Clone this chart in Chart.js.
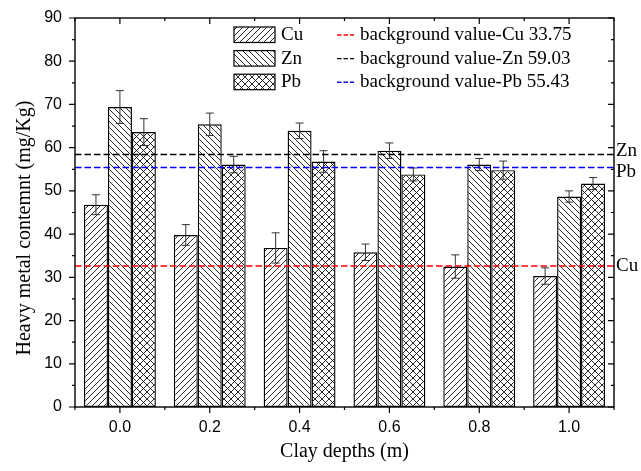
<!DOCTYPE html>
<html>
<head>
<meta charset="utf-8">
<script src="https://cdn.jsdelivr.net/npm/chart.js@4"></script>
<style>
  html, body { margin: 0; padding: 0; background: #fff; }
  #wrap { width: 641px; height: 471px; }
</style>
</head>
<body>
<div id="wrap"><canvas id="metalChart"></canvas></div>
<script>
// valores
const depths = ['0.0', '0.2', '0.4', '0.6', '0.8', '1.0'];
const cuValues = [46.8, 39.8, 36.8, 35.8, 32.5, 30.3];
const cuErrors = [2.3, 2.4, 3.5, 1.9, 2.7, 1.9];
const znValues = [69.4, 65.4, 63.9, 59.3, 56.1, 48.7];
const znErrors = [3.8, 2.6, 1.8, 1.8, 1.4, 1.3];
const pbValues = [63.6, 56.1, 56.8, 53.8, 54.8, 51.7];
const pbErrors = [3.1, 1.9, 2.5, 1.5, 2.1, 1.4];

// lineas de fondo
const bgNames = ['Cu', 'Zn', 'Pb'];
const bgLabels = ['background value-Cu 33.75', 'background value-Zn 59.03', 'background value-Pb 55.43'];
const bgLevels = [32.6, 58.4, 55.4];
const bgColors = ['#ff0000', '#000000', '#0000ff'];

const yMin = 0, yMax = 90, yStep = 10;

// rellenos con rayado
function makePattern(kind) {
    const s = kind === 'cross' ? 7 : 6;
    const c = document.createElement('canvas');
    c.width = s; c.height = s;
    const g = c.getContext('2d');
    g.fillStyle = '#fff';
    g.fillRect(0, 0, s, s);
    g.strokeStyle = '#111';
    g.lineWidth = 0.9;
    g.beginPath();
    if (kind === 'fwd' || kind === 'cross') {
        g.moveTo(0, s); g.lineTo(s, 0);
        g.moveTo(-1, 1); g.lineTo(1, -1);
        g.moveTo(s - 1, s + 1); g.lineTo(s + 1, s - 1);
    }
    if (kind === 'back' || kind === 'cross') {
        g.moveTo(0, 0); g.lineTo(s, s);
        g.moveTo(-1, s - 1); g.lineTo(1, s + 1);
        g.moveTo(s - 1, -1); g.lineTo(s + 1, 1);
    }
    g.stroke();
    return g.createPattern(c, 'repeat');
}

const cuFill = makePattern('fwd');
const znFill = makePattern('back');
const pbFill = makePattern('cross');

// barras de error
const errorBars = {
    id: 'errorBars',
    afterDatasetsDraw(chart) {
        const ctx = chart.ctx, y = chart.scales.y;
        ctx.save();
        ctx.strokeStyle = '#333';
        ctx.lineWidth = 1;
        chart.data.datasets.forEach((ds, di) => {
            const meta = chart.getDatasetMeta(di);
            meta.data.forEach((bar, i) => {
                const v = ds.data[i], e = ds.errors[i];
                const top = y.getPixelForValue(v + e), bot = y.getPixelForValue(v - e);
                ctx.beginPath();
                ctx.moveTo(bar.x, top); ctx.lineTo(bar.x, bot);
                ctx.moveTo(bar.x - 4, top); ctx.lineTo(bar.x + 4, top);
                ctx.moveTo(bar.x - 4, bot); ctx.lineTo(bar.x + 4, bot);
                ctx.stroke();
            });
        });
        ctx.restore();
    }
};

// lineas de referencia, marco, ticks, leyenda y titulos
const decorations = {
    id: 'decorations',
    afterDraw(chart) {
        const { ctx, chartArea: a, scales: { x, y } } = chart;
        ctx.save();

        // lineas de fondo discontinuas
        ctx.lineWidth = 1.5;
        ctx.setLineDash([6.5, 3]);
        bgLevels.forEach((lv, i) => {
            const py = y.getPixelForValue(lv);
            ctx.strokeStyle = bgColors[i];
            ctx.beginPath();
            ctx.moveTo(a.left, py); ctx.lineTo(a.right, py);
            ctx.stroke();
        });
        ctx.setLineDash([]);

        // marco
        ctx.strokeStyle = '#000';
        ctx.lineWidth = 1.4;
        ctx.strokeRect(a.left, a.top, a.right - a.left, a.bottom - a.top);

        // ticks
        ctx.lineWidth = 1.2;
        ctx.beginPath();
        for (let v = yMin; v <= yMax; v += yStep / 2) {
            const py = y.getPixelForValue(v);
            const len = v % yStep === 0 ? 6 : 3;
            ctx.moveTo(a.left - len, py); ctx.lineTo(a.left, py);
            ctx.moveTo(a.right - len, py); ctx.lineTo(a.right, py);
        }
        for (let i = 0; i < depths.length; i++) {
            const px = x.getPixelForValue(i);
            ctx.moveTo(px, a.bottom); ctx.lineTo(px, a.bottom + 6);
            ctx.moveTo(px, a.top); ctx.lineTo(px, a.top + 6);
        }
        for (let i = 0; i <= depths.length; i++) {
            const px = x.getPixelForValue(i - 0.5);
            ctx.moveTo(px, a.bottom); ctx.lineTo(px, a.bottom + 3);
            ctx.moveTo(px, a.top); ctx.lineTo(px, a.top + 3);
        }
        ctx.stroke();

        // etiquetas a la derecha
        ctx.fillStyle = '#000';
        ctx.font = '19px "Liberation Serif"';
        ctx.textAlign = 'left';
        ctx.textBaseline = 'middle';
        bgNames.forEach((n, i) => {
            const py = y.getPixelForValue(bgLevels[i]);
            const off = n === 'Zn' ? -4 : (n === 'Pb' ? 4 : 0);
            ctx.fillText(n, a.right + 2, py + off);
        });

        // leyenda de barras
        const sets = chart.data.datasets;
        sets.forEach((ds, i) => {
            const ry = 27 + i * 23.6;
            ctx.fillStyle = ds.backgroundColor;
            ctx.fillRect(234, ry, 41, 15.5);
            ctx.strokeStyle = '#000';
            ctx.lineWidth = 1.2;
            ctx.strokeRect(234, ry, 41, 15.5);
            ctx.fillStyle = '#000';
            ctx.fillText(ds.label, 281, ry + 8);
        });

        // leyenda de lineas
        bgLabels.forEach((t, i) => {
            const ry = 35 + i * 23.6;
            ctx.strokeStyle = bgColors[i];
            ctx.lineWidth = 1.4;
            ctx.setLineDash([4.5, 2]);
            ctx.beginPath();
            ctx.moveTo(337, ry); ctx.lineTo(354, ry);
            ctx.stroke();
            ctx.setLineDash([]);
            ctx.fillStyle = '#000';
            ctx.fillText(t, 360, ry);
        });

        // titulos de ejes
        ctx.font = '20px "Liberation Serif"';
        ctx.textAlign = 'center';
        ctx.fillText('Clay depths (m)', (a.left + a.right) / 2, 452);
        ctx.translate(25, 228);
        ctx.rotate(-Math.PI / 2);
        ctx.fillText('Heavy metal contemnt (mg/Kg)', 0, 0);

        ctx.restore();
    }
};

const ctx = document.getElementById('metalChart').getContext('2d');
const metalChart = new Chart(ctx, {
    type: 'bar',
    data: {
        labels: depths,
        datasets: [
            { label: 'Cu', data: cuValues, errors: cuErrors, backgroundColor: cuFill },
            { label: 'Zn', data: znValues, errors: znErrors, backgroundColor: znFill },
            { label: 'Pb', data: pbValues, errors: pbErrors, backgroundColor: pbFill }
        ]
    },
    options: {
        responsive: true,
        maintainAspectRatio: false,
        animation: false,
        devicePixelRatio: 1,
        layout: { padding: { top: 18, right: 27, left: 0, bottom: 0 } },
        datasets: {
            bar: {
                borderColor: '#000',
                borderWidth: 1.4,
                borderSkipped: false,
                categoryPercentage: 0.8,
                barPercentage: 1.0
            }
        },
        scales: {
            x: {
                offset: true,
                grid: { display: false, drawTicks: false },
                border: { display: false },
                ticks: {
                    color: '#000',
                    padding: 11,
                    font: { family: '"Liberation Sans"', size: 16 }
                },
                afterFit: (scale) => {
                    scale.height = 64;
                    scale.paddingLeft = 0;
                    scale.paddingRight = 0;
                }
            },
            y: {
                min: yMin,
                max: yMax,
                grid: { display: false, drawTicks: false },
                border: { display: false },
                ticks: {
                    stepSize: yStep,
                    color: '#000',
                    padding: 13,
                    font: { family: '"Liberation Sans"', size: 16 }
                },
                afterFit: (scale) => {
                    scale.width = 75;
                    scale.paddingTop = 0;
                    scale.paddingBottom = 0;
                }
            }
        },
        plugins: {
            legend: { display: false },
            tooltip: { enabled: false }
        }
    },
    plugins: [errorBars, decorations]
});
</script>
</body>
</html>
